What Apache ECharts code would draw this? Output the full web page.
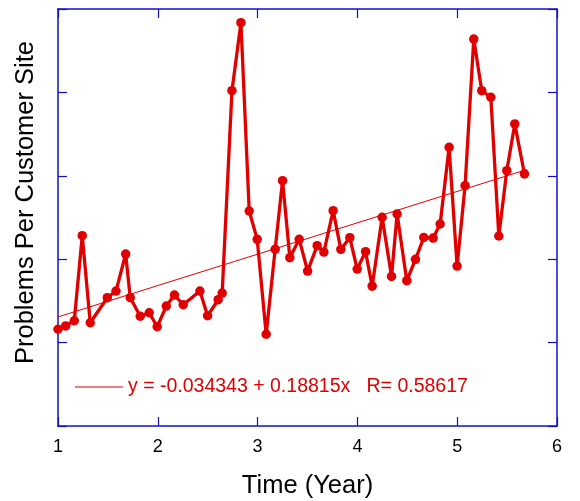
<!DOCTYPE html>
<html>
<head>
<meta charset="utf-8">
<script src="https://cdn.jsdelivr.net/npm/echarts@6/dist/echarts.min.js"></script>
<style>
html, body { margin: 0; padding: 0; background: #fff; }
#chart { width: 580px; height: 501px; }
</style>
</head>
<body>
<div id="chart"></div>
<script>
// values
var timeYears = [1.00, 1.077, 1.163, 1.243, 1.323, 1.494, 1.581, 1.678, 1.724, 1.824,
    1.914, 1.994, 2.085, 2.167, 2.255, 2.422, 2.499, 2.605, 2.645, 2.743,
    2.833, 2.916, 2.996, 3.086, 3.176, 3.250, 3.323, 3.417, 3.501, 3.597,
    3.664, 3.757, 3.834, 3.924, 3.998, 4.082, 4.148, 4.248, 4.342, 4.398,
    4.495, 4.582, 4.665, 4.759, 4.829, 4.919, 4.999, 5.079, 5.166, 5.246,
    5.337, 5.417, 5.497, 5.577, 5.674];
var problems = [0.080, 0.100, 0.131, 0.641, 0.119, 0.269, 0.309, 0.531, 0.269, 0.158,
    0.179, 0.095, 0.219, 0.285, 0.227, 0.309, 0.161, 0.257, 0.297, 1.510,
    1.918, 0.789, 0.619, 0.050, 0.559, 0.971, 0.509, 0.619, 0.429, 0.581,
    0.543, 0.791, 0.559, 0.629, 0.441, 0.545, 0.338, 0.751, 0.397, 0.771,
    0.371, 0.499, 0.630, 0.627, 0.711, 1.171, 0.459, 0.941, 1.820, 1.510,
    1.471, 0.639, 1.031, 1.311, 1.011];
var fitCoef = [-0.034343, 0.18815];   // intercept, slope
var fitX = [1, 5.7];
var rValue = '0.58617';
var xTicks = [1, 2, 3, 4, 5, 6];

var blue = '#1010cc';
var red = '#e00000';

var pts = [];
for (var i = 0; i < timeYears.length; i++) {
    pts.push([timeYears[i], problems[i]]);
}
var fitPts = [];
for (var j = 0; j < fitX.length; j++) {
    fitPts.push([fitX[j], fitCoef[0] + fitCoef[1] * fitX[j]]);
}
var fitName = 'y = ' + fitCoef[0] + ' + ' + fitCoef[1] + 'x   R= ' + rValue;

var chart = echarts.init(document.getElementById('chart'), null, { renderer: 'canvas' });

var axisBase = {
    type: 'value',
    axisLine: { show: true, onZero: false, lineStyle: { color: blue, width: 1.5 } },
    axisTick: { show: true, inside: true, length: 9, lineStyle: { color: blue, width: 1.2 } },
    splitLine: { show: false }
};

var option = {
    backgroundColor: '#fff',
    animation: false,
    textStyle: { fontFamily: 'Liberation Sans, Arial, sans-serif' },
    grid: { left: 58, right: 23, top: 9, bottom: 75, outerBoundsMode: 'none', containLabel: false },
    legend: {
        data: [fitName],
        left: 75,
        top: 377,
        padding: 0,
        icon: 'rect',
        itemWidth: 48,
        itemHeight: 1,
        selectedMode: false,
        textStyle: { color: red, fontSize: 19.5, fontFamily: 'Liberation Sans, Arial, sans-serif' }
    },
    xAxis: [
        Object.assign({}, axisBase, {
            position: 'bottom',
            min: 1, max: 6, interval: 1,
            name: 'Time (Year)',
            nameLocation: 'middle',
            nameGap: 47,
            nameTextStyle: { color: '#000', fontSize: 25.5 },
            axisLabel: {
                color: '#000', fontSize: 18, margin: 12,
                formatter: function (v) { return xTicks.indexOf(v) >= 0 ? String(v) : ''; }
            }
        }),
        Object.assign({}, axisBase, {
            position: 'top',
            min: 1, max: 6, interval: 1,
            axisLabel: { show: false }
        })
    ],
    yAxis: [
        Object.assign({}, axisBase, {
            position: 'left',
            min: -0.5, max: 2, interval: 0.5,
            name: 'Problems Per Customer Site',
            nameLocation: 'middle',
            nameGap: 19,
            nameTextStyle: { color: '#000', fontSize: 25.5, padding: [0, 0, 0, 30] },
            axisLabel: { show: false }
        }),
        Object.assign({}, axisBase, {
            position: 'right',
            min: -0.5, max: 2, interval: 0.5,
            axisLabel: { show: false }
        })
    ],
    series: [
        {
            name: fitName,
            type: 'line',
            data: fitPts,
            showSymbol: false,
            symbol: 'none',
            lineStyle: { color: red, width: 1 },
            itemStyle: { color: red },
            z: 2
        },
        {
            name: 'data',
            type: 'line',
            data: pts,
            symbol: 'circle',
            symbolSize: 9.5,
            lineStyle: { color: red, width: 3.3 },
            itemStyle: { color: red },
            z: 3
        }
    ]
};

chart.setOption(option);
</script>
</body>
</html>
